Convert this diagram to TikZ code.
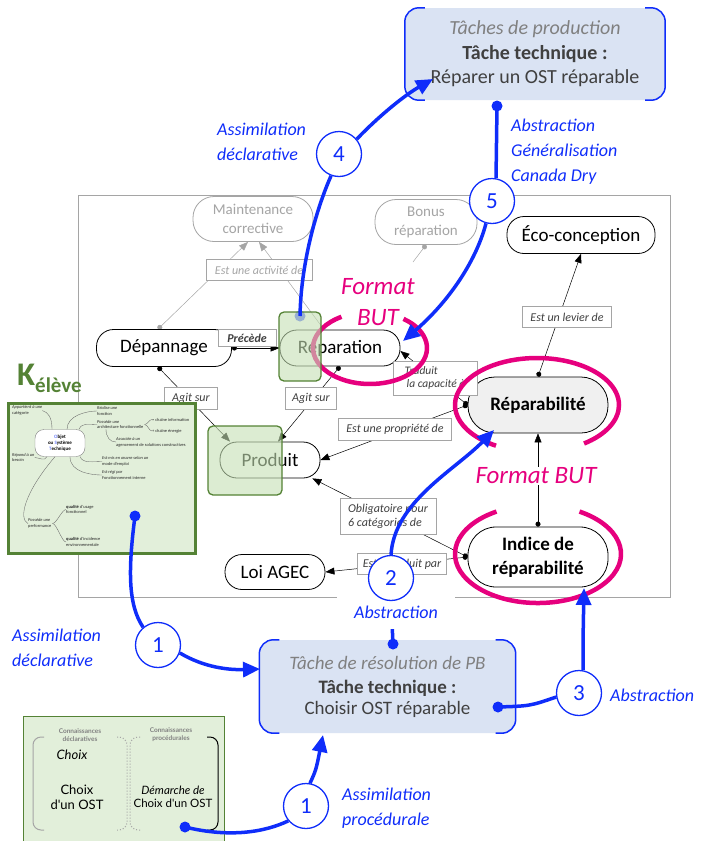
\documentclass[tikz,border=0pt]{standalone}
\usepackage{fontspec}
\setmainfont{Carlito}
\newfontfamily\latofont{Lato}
\usetikzlibrary{arrows.meta}
\pgfdeclarelayer{back}
\pgfdeclarelayer{bg}
\pgfdeclarelayer{front}
\pgfsetlayers{back,bg,main,front}
\definecolor{bluA}{RGB}{15,45,250}
\definecolor{pinkA}{RGB}{230,0,126}
\definecolor{grnD}{RGB}{84,130,53}
\definecolor{grnL}{RGB}{226,239,218}
\definecolor{grnO}{RGB}{197,224,180}
\definecolor{boxB}{RGB}{218,227,243}
\definecolor{txtD}{RGB}{64,64,64}
\definecolor{txtG}{RGB}{128,128,128}
\definecolor{lgray}{RGB}{165,165,165}
\newcommand\fsz[2]{\fontsize{#1}{#2}\selectfont}
\begin{document}
\begin{tikzpicture}[x=1pt,y=-1pt,
  cnode/.style={draw, rounded corners=17pt, fill=white, line width=0.8pt, align=center, font=\fsz{19}{21}, inner sep=2pt},
  lbl/.style={draw=lgray, fill=white, font=\fsz{12}{14}\itshape, text=txtD, inner sep=2pt, line width=0.6pt},
  cedge/.style={line width=0.5pt, {Circle[length=5pt]}-{Triangle[length=9pt,width=7pt]}},
  gedge/.style={cedge, draw=lgray},
  bline/.style={draw=bluA, line width=3.5pt},
  barrow/.style={bline, -{Triangle[length=17pt,width=15pt]}},
  bdot/.style={circle, fill=bluA, inner sep=0pt, minimum size=11pt},
  bnum/.style={circle, draw=bluA, line width=1.3pt, fill=white, minimum size=45pt, inner sep=0pt, text=bluA, font=\fsz{23}{23}},
  blab/.style={text=bluA, font=\fsz{18}{25}\itshape, align=left, inner sep=1pt},
  pinkl/.style={draw=pinkA, line width=4.5pt},
  ptxt/.style={text=pinkA, font=\fsz{25}{31}\itshape, align=center, inner sep=1pt},
  tbox/.style={fill=boxB, rounded corners=14pt, align=center, text=txtD, inner sep=0pt},
  mm/.style={anchor=west, align=left, inner sep=0pt, font=\fsz{4.4}{5.8}, text=black!85},
  mml/.style={draw=black!60, line width=0.35pt},
  gbox/.style={draw=grnD, fill=grnL, inner sep=0pt},
  brk/.style={line width=1pt, rounded corners=8pt}
]
\useasboundingbox (0,0) rectangle (701,841);

% ---------- concept map frame
\begin{pgfonlayer}{back}
\draw[lgray, line width=0.8pt] (78,195) rectangle (670,597);
\end{pgfonlayer}

% ---------- concept nodes
\node[cnode, draw=lgray, text=lgray, font=\fsz{15}{19}, minimum width=120pt, minimum height=45pt, rounded corners=21pt] (maint) at (253,219) {Maintenance\\corrective};
\node[cnode, draw=lgray, text=lgray, font=\fsz{15}{19}, minimum width=102pt, minimum height=45pt, rounded corners=21pt] (bonus) at (426,222) {Bonus\\réparation};
\node[cnode, minimum width=148pt, minimum height=37pt] (eco) at (581,235) {Éco-conception};
\node[cnode, minimum width=135pt, minimum height=37pt] (dep) at (164,348) {Dépannage};
\node[cnode, minimum width=120pt, minimum height=36pt] (rep) at (340,348) {Réparation};
\node[cnode, minimum width=100pt, minimum height=36pt] (prod) at (270,460) {Produit};
\node[cnode, fill=gray!12, font=\fsz{19}{21}\bfseries, minimum width=140pt, minimum height=56pt, rounded corners=27pt] (repa) at (538,405) {Réparabilité};
\node[cnode, font=\fsz{19}{24}\bfseries, minimum width=140pt, minimum height=60pt, rounded corners=28pt] (ind) at (538,557) {Indice de\\réparabilité};
\node[cnode, minimum width=100pt, minimum height=35pt] (loi) at (275,572) {Loi AGEC};
\coordinate (bstub) at (413,262);

% ---------- link labels
\node[lbl, text=lgray, minimum width=106pt, minimum height=21pt] (lact) at (259,270) {Est une activité de};
\node[lbl, font=\fsz{12}{14}\bfseries\itshape, minimum width=58pt, minimum height=17pt] (lprec) at (247,338) {Précède};
\node[lbl, minimum width=53pt, minimum height=22pt] (lag1) at (191,398) {Agit sur};
\node[lbl, minimum width=51pt, minimum height=22pt] (lag2) at (311,398) {Agit sur};
\node[lbl, align=left, font=\fsz{11.5}{13.5}\itshape, minimum width=84pt, minimum height=34pt] (ltr) at (435,378) {Traduit\\\hspace*{2pt}la capacité à};
\node[lbl, minimum width=113pt, minimum height=22pt] (lprop) at (395,429) {Est une propriété de};
\node[lbl, minimum width=89pt, minimum height=21pt] (llev) at (567,317) {Est un levier de};
\node[lbl, align=left, minimum width=96pt, minimum height=36pt] (lobl) at (388,516) {Obligatoire pour\\6 catégories de};
\node[lbl, minimum width=89pt, minimum height=21pt] (lint) at (402,564) {Est introduit par};

% ---------- concept edges
\begin{pgfonlayer}{bg}
\draw[gedge] ([xshift=-6pt]dep.north) -- ([xshift=-5pt]maint.south);
\draw[lgray, line width=0.5pt, -{Triangle[length=9pt,width=7pt]}] ([xshift=-16pt]rep.north) -- ([xshift=6pt]maint.south);
\draw[lgray, line width=0.5pt, {Circle[length=5pt]}-] (bonus.south) -- (bstub);
\draw[cedge] (dep.east) -- (rep.west);
\draw[cedge] ([xshift=-6pt]dep.south) -- ([xshift=-40pt]prod.north);
\draw[cedge] (rep.south) -- ([xshift=8pt]prod.north);
\draw[cedge] (repa.west) -- ([yshift=-3pt]rep.east);
\draw[cedge] (repa.west) -- (prod.east);
\draw[cedge] (repa.north) -- (eco.south);
\draw[cedge] (ind.north) -- (repa.south);
\draw[cedge] (ind.west) -- ([xshift=-8pt]prod.south east);
\draw[cedge] (ind.west) -- (loi.east);
\end{pgfonlayer}

% ---------- pink "Format BUT"
\draw[pinkl] (370,348) ++(-54:57 and 36) arc[start angle=-54, end angle=240, x radius=57, y radius=36];
\draw[pinkl] (537,405) ++(120:82 and 47) arc[start angle=120, end angle=415, x radius=82, y radius=47];
\draw[pinkl] (538,554) ++(300:83 and 49) arc[start angle=300, end angle=600, x radius=83, y radius=49];
\node[ptxt] (fmt1) at (378,302) {Format\\BUT};
\node[ptxt, fill=white] (fmt2) at (536,476) {Format BUT};

% ---------- green highlight rectangles
\node[bdot, fill=bluA!70!white] (d4) at (300,316) {};
\draw[grnD, line width=1.3pt, fill=grnO, fill opacity=0.6, rounded corners=5pt] (279,312) rectangle (321,381);
\draw[grnD, line width=1.3pt, fill=grnO, fill opacity=0.6, rounded corners=5pt] (208,426) rectangle (282,495);

% ---------- K eleve
\node[anchor=base west, text=grnD, inner sep=0pt] (kel) at (17,385) {\fsz{33}{33}\bfseries K\raisebox{-7pt}{\fsz{21}{21}élève}};
\node[gbox, line width=3pt, minimum width=187pt, minimum height=150pt] (kbox) at (101.5,478) {};
\node[draw=black!50, fill=white, rounded corners=9pt, minimum width=50pt, minimum height=27pt, inner sep=1pt, font=\fsz{5}{6}\bfseries, align=center] (mc) at (60,443) {{\color{bluA!60}O}bjet\\ou {\color{bluA!60}S}ystème\\{\color{bluA!60}T}echnique};
\node[mm] (m1) at (12,410.5) {\textit{Appartient à une}\\catégorie};
\node[mm] (m2) at (97,411) {\textit{Réalise une}\\fonction};
\node[mm] (m3) at (97,424.5) {\textit{Possède une}\\architecture fonctionnelle};
\node[mm] (m5a) at (152,419.5) {= chaîne information};
\node[mm] (m5b) at (152,431) {+ chaîne énergie};
\node[mm] (m4) at (116,442) {\textit{Associée à un}\\agencement de solutions constructives};
\node[mm] (m6) at (102,461.5) {\textit{Est mis en œuvre selon un}\\mode d'emploi};
\node[mm] (m7) at (102,475) {\textit{Est régi par}\\Fonctionnement interne};
\node[mm] (m8) at (12,457.5) {\textit{Répond à un}\\besoin};
\node[mm] (m9) at (28,523.5) {\textit{Possède une}\\performance};
\node[mm] (m10) at (66,509.5) {\textbf{qualité} d'usage\\fonctionnel};
\node[mm] (m11) at (66,542) {\textbf{qualité} d'incidence\\environnementale};
\draw[mml] ([xshift=-8pt]mc.north) .. controls +(0,-12) and +(6,2) .. (m1.east);
\draw[mml] ([xshift=7pt]mc.north) .. controls +(0,-14) and +(-10,0) .. (m2.west);
\draw[mml] ([xshift=19pt]mc.north) .. controls +(3,-7) and +(-8,0) .. (m3.west);
\draw[mml] ([xshift=9pt]m3.south west) .. controls +(0,8) and +(-6,0) .. (m4.west);
\draw[mml] ([xshift=1pt]m3.east) .. controls +(3,0) and +(-3,0) .. (m5a.west);
\draw[mml] ([xshift=1pt]m3.east) .. controls +(3,0) and +(-3,0) .. (m5b.west);
\draw[mml] ([xshift=-5pt]mc.south east) .. controls +(2,7) and +(-8,0) .. (m6.west);
\draw[mml] ([xshift=10pt]mc.south) .. controls +(0,16) and +(-10,0) .. (m7.west);
\draw[mml] ([xshift=-13pt]mc.south) .. controls +(-2,5) and +(4,0) .. (m8.east);
\draw[mml] ([xshift=-5pt]mc.south) .. controls +(-30,35) and +(-10,-5) .. (m9.west);
\draw[mml] ([xshift=1pt]m9.east) .. controls +(4,0) and +(-4,0) .. (m10.west);
\draw[mml] ([xshift=1pt]m9.east) .. controls +(4,0) and +(-4,0) .. (m11.west);

% ---------- bottom-left knowledge box
\node[gbox, line width=1.2pt, minimum width=201pt, minimum height=140pt, anchor=north west] (bbox) at (23,716) {};
\draw[brk, lgray] (44,737) -- (33,737) -- (33,830) -- (44,830);
\draw[brk, lgray, dotted] (117,737) -- (127,737) -- (127,830) -- (117,830);
\draw[brk, lgray, dotted] (140,737) -- (130,737) -- (130,830) -- (140,830);
\draw[brk, black] (207,737) -- (218,737) -- (218,830) -- (207,830);
\node[font=\latofont\fsz{6.5}{8}\bfseries, text=gray, align=center] (kd) at (80,735) {Connaissances\\déclaratives};
\node[font=\latofont\fsz{6.5}{8}\bfseries, text=gray, align=center] (kp) at (171,735) {Connaissances\\procédurales};
\node[font=\latofont\fsz{13}{15}\itshape] (ch1) at (72,755) {Choix};
\node[font=\latofont\fsz{13}{15}, align=center] (ch2) at (77,797) {Choix\\d'un OST};
\node[font=\latofont\fsz{11.5}{13.5}, align=center] (ch3) at (173,797) {\textit{Démarche de}\\Choix d'un OST};

% ---------- task boxes
\node[tbox, minimum width=260pt, minimum height=92pt, font=\fsz{20}{24.5}] (top) at (535,54) {{\color{txtG}\itshape Tâches de production}\\\textbf{Tâche technique :}\\Réparer un OST réparable};
\draw[bluA, line width=1.5pt, rounded corners=14pt] ([xshift=20pt]top.north west) -- (top.north west) -- (top.south west) -- ([xshift=20pt]top.south west);
\draw[bluA, line width=1.5pt, rounded corners=14pt] ([xshift=-20pt]top.north east) -- (top.north east) -- (top.south east) -- ([xshift=-20pt]top.south east);
\node[tbox, minimum width=256pt, minimum height=93pt, font=\fsz{19}{24}] (mid) at (387.5,686.5) {{\color{txtG}\itshape Tâche de résolution de PB}\\\textbf{Tâche technique :}\\[-3pt]Choisir OST réparable};
\draw[bluA, line width=1.5pt, rounded corners=14pt] ([xshift=20pt]mid.north west) -- (mid.north west) -- (mid.south west) -- ([xshift=20pt]mid.south west);
\draw[bluA, line width=1.5pt, rounded corners=14pt] ([xshift=-20pt]mid.north east) -- (mid.north east) -- (mid.south east) -- ([xshift=-20pt]mid.south east);

% ---------- blue numbered circles (front)
\begin{pgfonlayer}{front}
\node[bnum] (c4) at (339,154) {4};
\node[bnum] (c5) at (492,201) {5};
\node[blab, fill=white, align=center, minimum width=118pt, minimum height=34pt] (abs2) at (396,612) {Abstraction};
\node[bnum] (c2) at (391,578) {2};
\node[bnum] (c1a) at (158,645) {1};
\node[bnum] (c3) at (579,693) {3};
\node[bnum] (c1b) at (306,806) {1};
\end{pgfonlayer}

% ---------- blue dots and arrow ends
\node[bdot] (d5) at (497,106) {};
\node[bdot] (d2) at (393,644) {};
\node[bdot] (d3) at (498,707) {};
\node[bdot] (d1a) at (135,516) {};
\node[bdot] (d1b) at (185,827) {};
\coordinate (t4) at (433,79);
\coordinate (t5) at (403,341);
\coordinate (t2) at (494,430);
\coordinate (t3) at (584,588);
\coordinate (t1a) at (260,669);
\coordinate (t1b) at (323,735);

% ---------- blue arrows
\draw[bline] (d4.center) .. controls (301,260) and (318,205) .. (c4.250);
\draw[barrow] (c4.40) .. controls (380,115) and (405,95) .. (t4);
\draw[bline] (d5.center) -- (c5.80);
\draw[barrow] (c5.255) .. controls (475,265) and (445,305) .. (t5);
\draw[bline] (d2.center) -- (c2.south);
\draw[barrow] (c2.north) .. controls (394,502) and (455,470) .. (t2);
\draw[bline] (d3.center) .. controls (530,706) .. (c3.190);
\draw[barrow] (c3.80) .. controls (583,640) .. (t3);
\draw[bline] (d1a.center) .. controls (128,570) and (128,605) .. (c1a.130);
\draw[barrow] (c1a.-20) .. controls (205,668) and (230,670) .. (t1a);
\draw[bline] (d1b.center) .. controls (230,838) and (265,832) .. (c1b.220);
\draw[barrow] (c1b.80) .. controls (316,770) .. (t1b);

% ---------- blue labels
\node[blab, anchor=west] (la4) at (216,142) {Assimilation\\déclarative};
\node[blab, anchor=west] (la5) at (510,152) {Abstraction\\Généralisation\\Canada Dry};
\node[blab, anchor=west] (la1a) at (11,648) {Assimilation\\déclarative};
\node[blab, anchor=west] (la3) at (609,695) {Abstraction};
\node[blab, anchor=west] (la1b) at (341,808) {Assimilation\\procédurale};
\end{tikzpicture}
\end{document}
